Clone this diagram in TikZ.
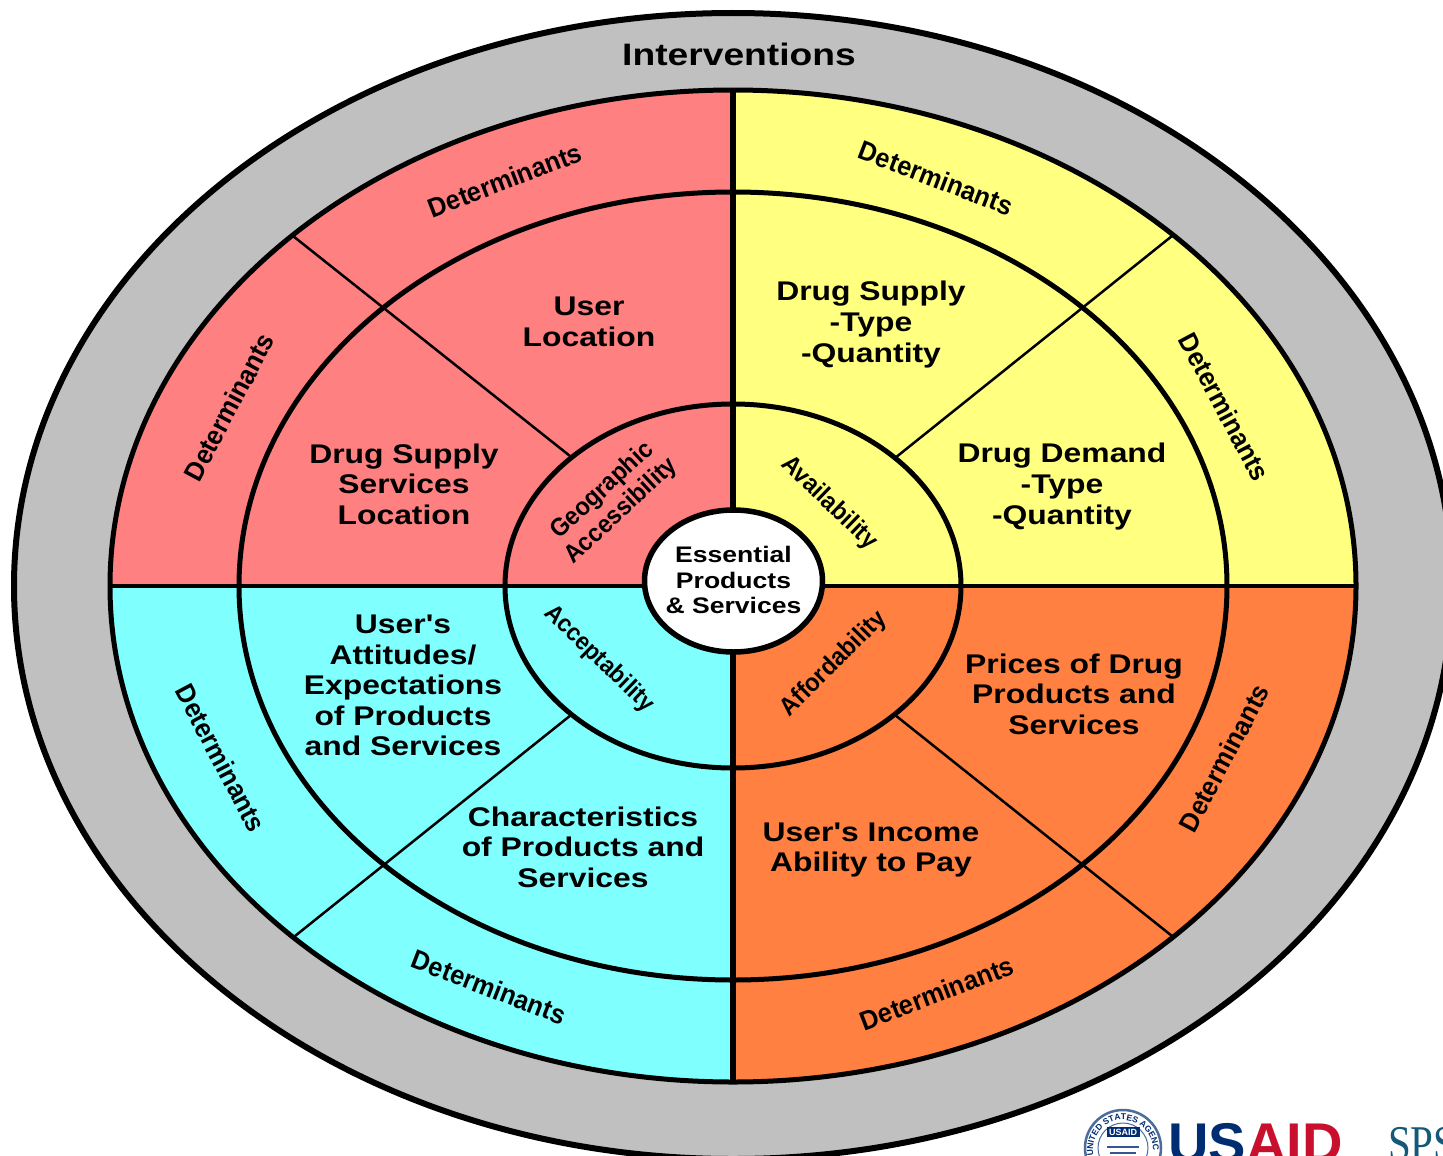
\documentclass[tikz,border=0pt]{standalone}
\usepackage{fontspec}
\usetikzlibrary{shapes.geometric,decorations.text}
\setmainfont{Liberation Sans}
\newfontfamily\plainsans[Ligatures=NoCommon,Mapping=]{Liberation Sans}
\newfontfamily\serifsps{Liberation Serif}
\definecolor{cred}{RGB}{255,128,128}
\definecolor{cyel}{RGB}{255,255,128}
\definecolor{ccya}{RGB}{128,255,255}
\definecolor{cora}{RGB}{255,128,64}
\definecolor{cgry}{RGB}{192,192,192}
\definecolor{navy}{RGB}{0,45,114}
\definecolor{usred}{RGB}{200,16,46}
\definecolor{teal}{RGB}{20,90,120}
\tikzset{
  ring/.style={draw=black,line width=5pt},
  thindiv/.style={draw=black,line width=2.5pt},
  vdiv/.style={draw=black,line width=6pt},
  hdiv/.style={draw=black,line width=4.5pt},
  big/.style={align=center,inner sep=0,xscale=1.18,font=\fontsize{27}{30.6}\selectfont\bfseries},
  det/.style={inner sep=0,xscale=.94,font=\fontsize{27}{28}\selectfont\bfseries},
  mid/.style={align=center,inner sep=0,xscale=.93,font=\fontsize{25.2}{28}\selectfont\bfseries},
  ctr/.style={align=center,inner sep=0,xscale=1.18,font=\fontsize{22.5}{25.5}\selectfont\bfseries},
  logo/.style={anchor=base west,inner sep=0,font=\fontsize{56}{56}\selectfont\bfseries},
}
\begin{document}
\begin{tikzpicture}[x=1pt,y=-1pt]
\useasboundingbox (0,0) rectangle (1443,1156);
\clip (0,0) rectangle (1443,1156);
\fill[white] (0,0) rectangle (1443,1156);
\draw[fill=cgry,line width=6pt] (733,586) ellipse [x radius=719,y radius=573];
\fill[cred] (733,586) -- (110,586) arc [start angle=180,end angle=270,x radius=623,y radius=496] -- cycle;
\fill[cyel] (733,586) -- (733,90) arc [start angle=270,end angle=360,x radius=623,y radius=496] -- cycle;
\fill[cora] (733,586) -- (1356,586) arc [start angle=0,end angle=90,x radius=623,y radius=496] -- cycle;
\fill[ccya] (733,586) -- (733,1082) arc [start angle=90,end angle=180,x radius=623,y radius=496] -- cycle;
\coordinate (d1a) at (293,236); \coordinate (d1b) at (570,456);
\coordinate (d2a) at (1172,236); \coordinate (d2b) at (895,458);
\coordinate (d3a) at (295,936); \coordinate (d3b) at (571,715);
\coordinate (d4a) at (1172,936); \coordinate (d4b) at (895,715);
\draw[thindiv] (d1a) -- (d1b);
\draw[thindiv] (d2a) -- (d2b);
\draw[thindiv] (d3a) -- (d3b);
\draw[thindiv] (d4a) -- (d4b);
\draw[ring] (733,586) ellipse [x radius=623,y radius=496];
\draw[ring] (733,586) ellipse [x radius=494,y radius=394];
\draw[ring] (733,586) ellipse [x radius=228,y radius=182];
\coordinate (vt) at (733,90); \coordinate (vb) at (733,1082);
\coordinate (hl) at (110,586); \coordinate (hr) at (1356,586);
\draw[vdiv] (vt) -- (vb);
\draw[hdiv] (hl) -- (hr);
\draw[ring,line width=5.5pt,fill=white] (733.5,581) ellipse [x radius=89,y radius=71];
\node[ctr] (centre) at (733.5,580) {Essential\\Products\\\& Services};
\node[inner sep=0,xscale=1.2,font=\fontsize{31}{34}\selectfont\bfseries] (interv) at (739,54) {Interventions};
\node[rotate=21,det] (dr1) at (505,180) {Determinants};
\node[rotate=62,det] (dr2) at (229,407) {Determinants};
\node[rotate=-21,det] (dy1) at (936,178) {Determinants};
\node[rotate=-62,det] (dy2) at (1224.5,407) {Determinants};
\node[rotate=-62,det] (dc1) at (221,758) {Determinants};
\node[rotate=-21,det] (dc2) at (489,987) {Determinants};
\node[rotate=21,det] (do1) at (937,993) {Determinants};
\node[rotate=62,det] (do2) at (1224,758) {Determinants};
\node[rotate=43,mid] (geo) at (612,501) {Geographic\\Accessibility};
\node[rotate=-44,mid] (avail) at (829,503) {Availability};
\node[rotate=-44,mid,font=\fontsize{24.6}{28}\selectfont\bfseries] (accept) at (599,659) {Acceptability};
\node[rotate=45,mid] (afford) at (834,664) {Affordability};
\node[big] (t1) at (589,322) {User\\Location};
\node[big] (t2) at (404,484) {Drug Supply\\Services\\Location};
\node[big] (t3) at (871,324.5) {Drug Supply\\-Type\\-Quantity};
\node[big] (t4) at (1062,486.5) {Drug Demand\\-Type\\-Quantity};
\node[big] (t5) at (403,685.5) {User{\plainsans\char39}s\\Attitudes/\\Expectations\\of Products\\and Services};
\node[big] (t6) at (583,847) {Characteristics\\of Products and\\Services};
\node[big] (t7) at (1074,694) {Prices of Drug\\Products and\\Services};
\node[big] (t8) at (871,850) {User{\plainsans\char39}s Income\\Ability to Pay};
% logo
\draw[navy!70,line width=2.5pt,fill=white] (1123,1148) circle (38);
\draw[navy!70,line width=1pt] (1123,1148) circle (25);
\path[postaction={decorate,decoration={text along path,text align=center,
  text={|\fontsize{8.5}{8.5}\selectfont\bfseries\color{navy}|UNITED STATES AGENCY}}}]
  (1093,1150) arc [start angle=180,end angle=360,radius=30];
\node[fill=navy,text=white,inner sep=1.5pt,minimum width=33pt,font=\fontsize{9}{9}\selectfont\bfseries] (sealbox) at (1123,1132) {USAID};
\draw[navy!80,line width=2pt] (1107,1147) -- (1139,1147);
\draw[navy!80,line width=1.2pt] (1110,1153) -- (1136,1153);
\node[logo,text=navy] (us) at (1168,1162) {US};
\node[logo,text=usred] (aid) at (us.base east) {AID};
\node[anchor=base west,inner sep=0,xscale=.82,text=teal,font=\fontsize{50}{50}\selectfont\serifsps] (sps) at (1388,1160) {SPS};
\end{tikzpicture}
\end{document}
